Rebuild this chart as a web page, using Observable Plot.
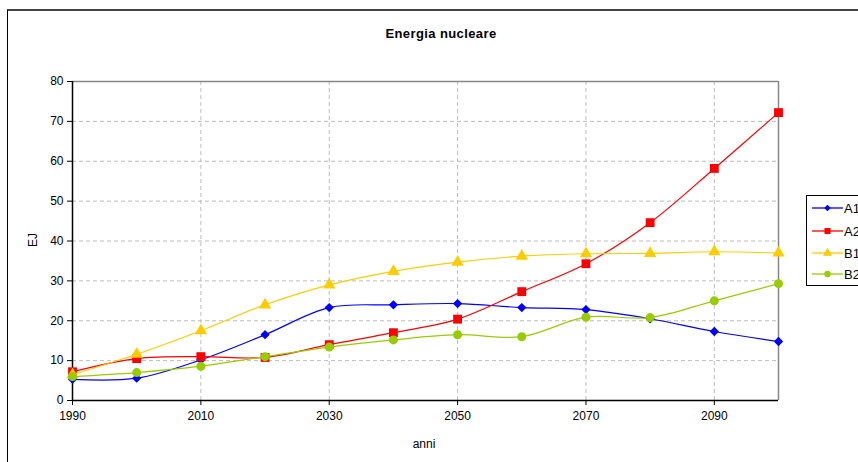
<!DOCTYPE html>
<html>
<head>
<meta charset="utf-8">
<script src="https://cdn.jsdelivr.net/npm/d3@7"></script>
<script src="https://cdn.jsdelivr.net/npm/@observablehq/plot@0.6"></script>
<style>
  html, body { margin: 0; padding: 0; background: #fff; overflow: hidden; }
  #wrap { position: relative; width: 858px; height: 462px; font-family: "Liberation Sans", Arial, sans-serif; }
  #frame { position: absolute; left: 7px; top: 9px; width: 900px; height: 500px; border-left: 1px solid #000; border-top: 2px solid #444; box-sizing: border-box; }
  #title { position: absolute; top: 26px; left: 441px; transform: translateX(-50%); font-size: 13px; font-weight: bold; letter-spacing: 0.4px; white-space: nowrap; }
  #ylab { position: absolute; left: 33px; top: 240px; transform: translate(-50%, -50%) rotate(-90deg); font-size: 12px; }
  #xlab { position: absolute; left: 424px; top: 437px; transform: translateX(-50%); font-size: 12px; }
  #legend { position: absolute; left: 806px; top: 195px; width: 70px; height: 91px; border: 1px solid #000; box-sizing: border-box; background: #fff; }
  #chart { position: absolute; left: 0; top: 0; }
</style>
</head>
<body>
<div id="wrap">
  <div id="frame"></div>
  <div id="chart"></div>
  <div id="title">Energia nucleare</div>
  <div id="ylab">EJ</div>
  <div id="xlab">anni</div>
  <div id="legend"></div>
</div>
<script>
const years = [1990, 2000, 2010, 2020, 2030, 2040, 2050, 2060, 2070, 2080, 2090, 2100];
const seriesNames = ["A1", "A2", "B1", "B2"];
const a1 = [5.3, 5.6, 10.2, 16.5, 23.3, 24.0, 24.3, 23.3, 22.8, 20.5, 17.3, 14.8];
const a2 = [7.2, 10.5, 11.0, 10.8, 14.0, 17.0, 20.4, 27.3, 34.3, 44.6, 58.2, 72.2];
const b1 = [6.5, 11.6, 17.5, 24.0, 29.0, 32.4, 34.7, 36.2, 36.8, 36.9, 37.3, 37.0];
const b2 = [6.0, 7.0, 8.6, 11.0, 13.4, 15.2, 16.5, 16.0, 20.9, 20.8, 25.0, 29.3];
const xTicks = [1990, 2010, 2030, 2050, 2070, 2090];
const yTicks = [0, 10, 20, 30, 40, 50, 60, 70, 80];

const colors = ["#0000FF", "#FF0000", "#FFCC00", "#99CC00"];
const symbols = ["diamond2", "square", "triangle", "circle"];
const radii = [4.2, 5.0, 4.6, 4.5];
const legendRadii = [3.0, 3.4, 3.4, 3.2];

const values = [a1, a2, b1, b2];
const rows = [];
seriesNames.forEach((s, i) => years.forEach((y, j) => rows.push({ series: s, year: y, value: values[i][j] })));

const marks = [
  Plot.gridX(xTicks.slice(1), { stroke: "#bdbdbd", strokeOpacity: 1, strokeDasharray: "4,3" }),
  Plot.gridY(yTicks.slice(1, -1), { stroke: "#bdbdbd", strokeOpacity: 1, strokeDasharray: "4,3" }),
  Plot.ruleY([80], { stroke: "#888", strokeWidth: 1.5 }),
  Plot.ruleX([2100], { stroke: "#888", strokeWidth: 1.5 }),
  Plot.axisY(yTicks, { tickSize: 5, tickPadding: 4, stroke: "#000", fill: "#000", label: null }),
  Plot.axisX(xTicks, { tickSize: 5, tickPadding: 6, stroke: "#000", fill: "#000", tickFormat: "d", label: null }),
  Plot.ruleX([1990], { stroke: "#000", strokeWidth: 1.5 }),
  Plot.ruleY([0], { stroke: "#000", strokeWidth: 1.5 })
];
seriesNames.forEach((s, i) => {
  const data = rows.filter(d => d.series === s);
  marks.push(Plot.line(data, { x: "year", y: "value", stroke: colors[i], strokeWidth: 1.2, curve: "catmull-rom" }));
  marks.push(Plot.dot(data, { x: "year", y: "value", fill: colors[i], stroke: "none", symbol: symbols[i], r: radii[i] }));
});

const chart = Plot.plot({
  width: 858,
  height: 462,
  marginLeft: 72,
  marginRight: 80,
  marginTop: 81,
  marginBottom: 62,
  style: { fontFamily: "Liberation Sans, Arial, sans-serif", fontSize: "12px", color: "#000", background: "transparent" },
  x: { domain: [1990, 2100], label: null, axis: null },
  y: { domain: [0, 80], label: null, axis: null },
  marks
});
document.getElementById("chart").appendChild(chart);

// legend
const symMap = { diamond2: d3.symbolDiamond2, square: d3.symbolSquare, triangle: d3.symbolTriangle, circle: d3.symbolCircle };
const lg = d3.select("#legend").append("svg").attr("width", 70).attr("height", 89);
const rowsY = [12, 35, 57, 78];
seriesNames.forEach((s, i) => {
  const g = lg.append("g").attr("transform", `translate(0,${rowsY[i]})`);
  g.append("line").attr("x1", 5).attr("x2", 36).attr("y1", 0).attr("y2", 0).attr("stroke", colors[i]).attr("stroke-width", 1.3);
  g.append("path").attr("transform", "translate(20.5,0)")
    .attr("d", d3.symbol(symMap[symbols[i]], Math.PI * legendRadii[i] * legendRadii[i])())
    .attr("fill", colors[i]);
  g.append("text").attr("x", 37).attr("y", 4.5).attr("font-size", 13).attr("font-family", "Liberation Sans, Arial, sans-serif").text(s);
});
</script>
</body>
</html>
